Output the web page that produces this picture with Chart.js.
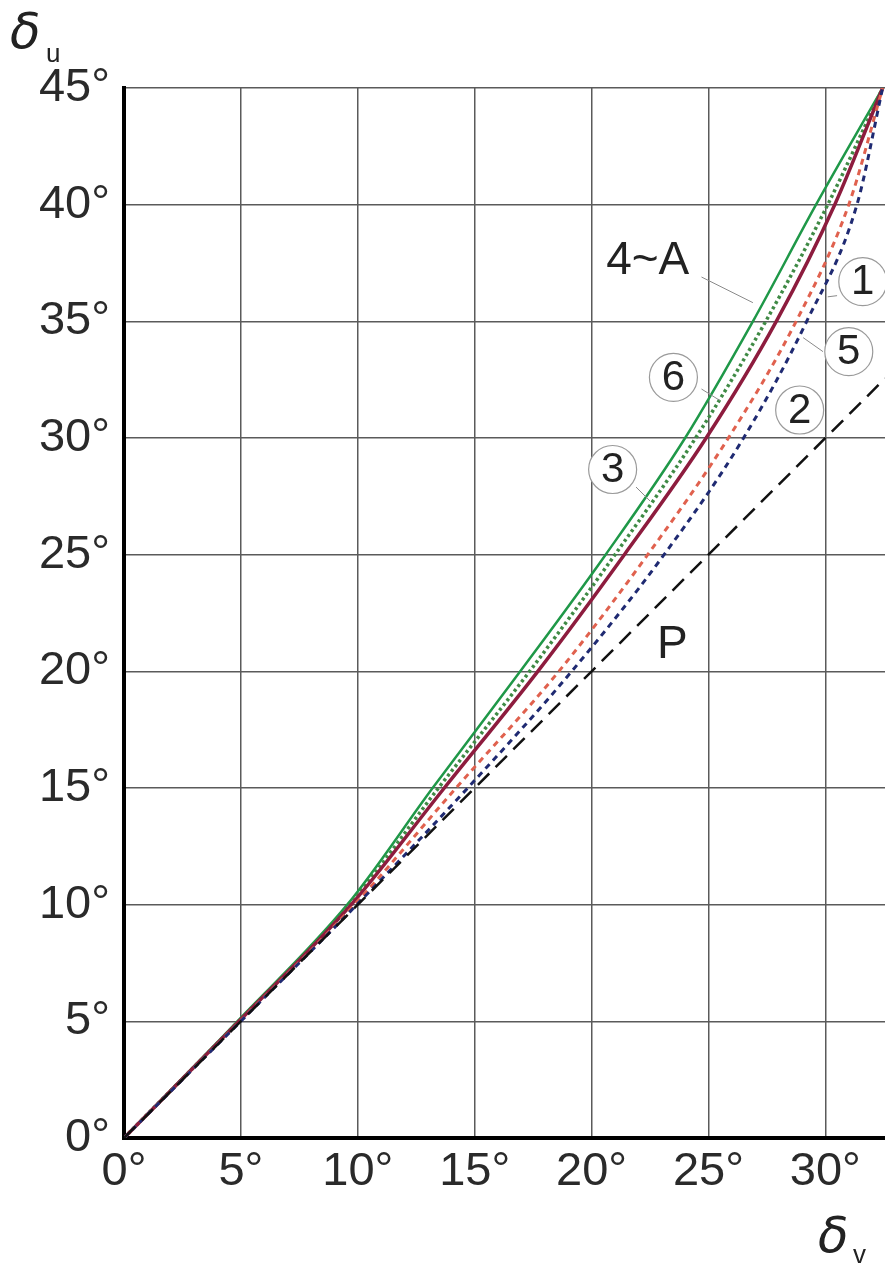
<!DOCTYPE html>
<html>
<head>
<meta charset="utf-8">
<script src="https://cdn.jsdelivr.net/npm/chart.js@4"></script>
<style>
  html, body { margin: 0; padding: 0; background: #fff; }
  #wrap { width: 885px; height: 1265px; position: relative; }
</style>
</head>
<body>
<div id="wrap"><canvas id="chart"></canvas></div>
<script>
// inner wheel angle levels (y axis, degrees)
const deltaU = [0, 5, 10, 15, 20, 25, 30, 35, 40, 45]
// outer wheel angle at those levels (x axis, degrees)
const curveA = [0, 4.85, 9.55, 13.2, 16.95, 20.6, 24.0, 26.9, 29.6, 32.45]   // 4~A, green solid
const curve6 = [0, 4.9, 9.65, 13.45, 17.35, 21.0, 24.45, 27.45, 30.1, 32.45] // green dotted
const curve3 = [0, 4.92, 9.72, 13.7, 17.7, 21.4, 24.9, 27.9, 30.4, 32.45]    // maroon solid
const curve5 = [0, 4.96, 9.86, 14.2, 18.6, 22.4, 25.85, 28.75, 31.0, 32.45]  // red dashed
const curve2 = [0, 4.99, 9.96, 14.7, 19.15, 23.1, 26.5, 29.2, 31.35, 32.45]  // navy dashed
const parallelX = [0, 32.55]
const parallelY = [0, 32.55]
const xTicks = [0, 5, 10, 15, 20, 25, 30]
const yTicks = [0, 5, 10, 15, 20, 25, 30, 35, 40, 45]

const pts = (xs, ys) => xs.map((x, i) => ({ x: x, y: ys[i] }))

const FONT = "'Liberation Sans', Arial, sans-serif"

// callouts: text, anchor (data), leader from/to (data)
const callouts = [
  { text: "4~A", x: 22.4, y: 37.6, circle: false, from: [24.7, 36.9], to: [26.9, 35.8] },
  { text: "1", x: 31.6, y: 36.7, circle: true, from: [30.5, 36.1], to: [30.1, 36.05] },
  { text: "5", x: 31.0, y: 33.7, circle: true, from: [29.9, 33.7], to: [29.05, 34.3] },
  { text: "2", x: 28.9, y: 31.2, circle: true, from: null, to: null },
  { text: "6", x: 23.5, y: 32.6, circle: true, from: [24.7, 32.1], to: [25.5, 31.6] },
  { text: "3", x: 20.9, y: 28.65, circle: true, from: [21.9, 27.9], to: [22.5, 27.3] },
  { text: "P", x: 23.45, y: 21.15, circle: false, from: null, to: null }
]

const annotations = {
  id: "annotations",
  afterDatasetsDraw(chart) {
    const ctx = chart.ctx
    const xs = chart.scales.x
    const ys = chart.scales.y
    ctx.save()
    callouts.forEach(c => {
      const px = xs.getPixelForValue(c.x)
      const py = ys.getPixelForValue(c.y)
      if (c.from) {
        ctx.strokeStyle = "#8a8a8a"
        ctx.lineWidth = 1
        ctx.beginPath()
        ctx.moveTo(xs.getPixelForValue(c.from[0]), ys.getPixelForValue(c.from[1]))
        ctx.lineTo(xs.getPixelForValue(c.to[0]), ys.getPixelForValue(c.to[1]))
        ctx.stroke()
      }
      if (c.circle) {
        ctx.fillStyle = "#fff"
        ctx.strokeStyle = "#9a9a9a"
        ctx.lineWidth = 1.2
        ctx.beginPath()
        ctx.arc(px, py, 24, 0, Math.PI * 2)
        ctx.fill()
        ctx.stroke()
      }
      ctx.fillStyle = "#222"
      ctx.font = (c.circle ? "42px " : "46px ") + FONT
      ctx.textAlign = "center"
      ctx.textBaseline = "middle"
      ctx.fillText(c.text, px, py + 1)
    })
    ctx.restore()
  },
  afterDraw(chart) {
    const ctx = chart.ctx
    ctx.save()
    ctx.fillStyle = "#222"
    ctx.textBaseline = "alphabetic"
    ctx.textAlign = "left"
    ctx.font = "italic 50px 'DejaVu Sans', sans-serif"
    ctx.fillText("δ", 10, 48)
    ctx.fillText("δ", 818, 1252)
    ctx.font = "26px " + FONT
    ctx.fillText("u", 46, 62)
    ctx.fillText("v", 853, 1263)
    ctx.restore()
  }
}

const chart = new Chart(document.getElementById("chart"), {
  type: "line",
  data: {
    datasets: [
      {
        label: "P",
        data: pts(parallelX, parallelY),
        borderColor: "#111",
        borderWidth: 2.5,
        borderDash: [16, 9],
        pointRadius: 0
      },
      {
        label: "2",
        data: pts(curve2, deltaU),
        borderColor: "#1f2a72",
        borderWidth: 3,
        borderDash: [6, 5],
        pointRadius: 0,
        cubicInterpolationMode: "monotone"
      },
      {
        label: "5",
        data: pts(curve5, deltaU),
        borderColor: "#e0614e",
        borderWidth: 3,
        borderDash: [6, 5],
        pointRadius: 0,
        cubicInterpolationMode: "monotone"
      },
      {
        label: "3",
        data: pts(curve3, deltaU),
        borderColor: "#8d1c3e",
        borderWidth: 3.5,
        pointRadius: 0,
        cubicInterpolationMode: "monotone"
      },
      {
        label: "6",
        data: pts(curve6, deltaU),
        borderColor: "#3f8a45",
        borderWidth: 3.5,
        borderDash: [3, 3],
        pointRadius: 0,
        cubicInterpolationMode: "monotone"
      },
      {
        label: "4~A",
        data: pts(curveA, deltaU),
        borderColor: "#1f9848",
        borderWidth: 2.5,
        pointRadius: 0,
        cubicInterpolationMode: "monotone"
      }
    ]
  },
  options: {
    responsive: true,
    maintainAspectRatio: false,
    animation: false,
    layout: { padding: { top: 88, right: 0, left: 0, bottom: 0 } },
    plugins: {
      legend: { display: false },
      tooltip: { enabled: false }
    },
    scales: {
      x: {
        type: "linear",
        min: 0,
        max: 32.55,
        afterBuildTicks: s => { s.ticks = xTicks.map(v => ({ value: v })) },
        afterFit: s => { s.height = 127 },
        grid: { color: "#5a5a5a", lineWidth: 1.5, drawTicks: false },
        border: { color: "#000", width: 4 },
        ticks: {
          padding: 6,
          color: "#2a2a2a",
          font: { family: FONT, size: 47 },
          maxRotation: 0,
          autoSkip: false,
          callback: v => v + "°"
        }
      },
      y: {
        type: "linear",
        min: 0,
        max: 45,
        afterBuildTicks: s => { s.ticks = yTicks.map(v => ({ value: v })) },
        afterFit: s => { s.width = 124 },
        grid: { color: "#5a5a5a", lineWidth: 1.5, drawTicks: false },
        border: { color: "#000", width: 4 },
        ticks: {
          padding: 14,
          color: "#2a2a2a",
          font: { family: FONT, size: 47 },
          autoSkip: false,
          callback: v => v + "°"
        }
      }
    }
  },
  plugins: [annotations]
})
</script>
</body>
</html>
